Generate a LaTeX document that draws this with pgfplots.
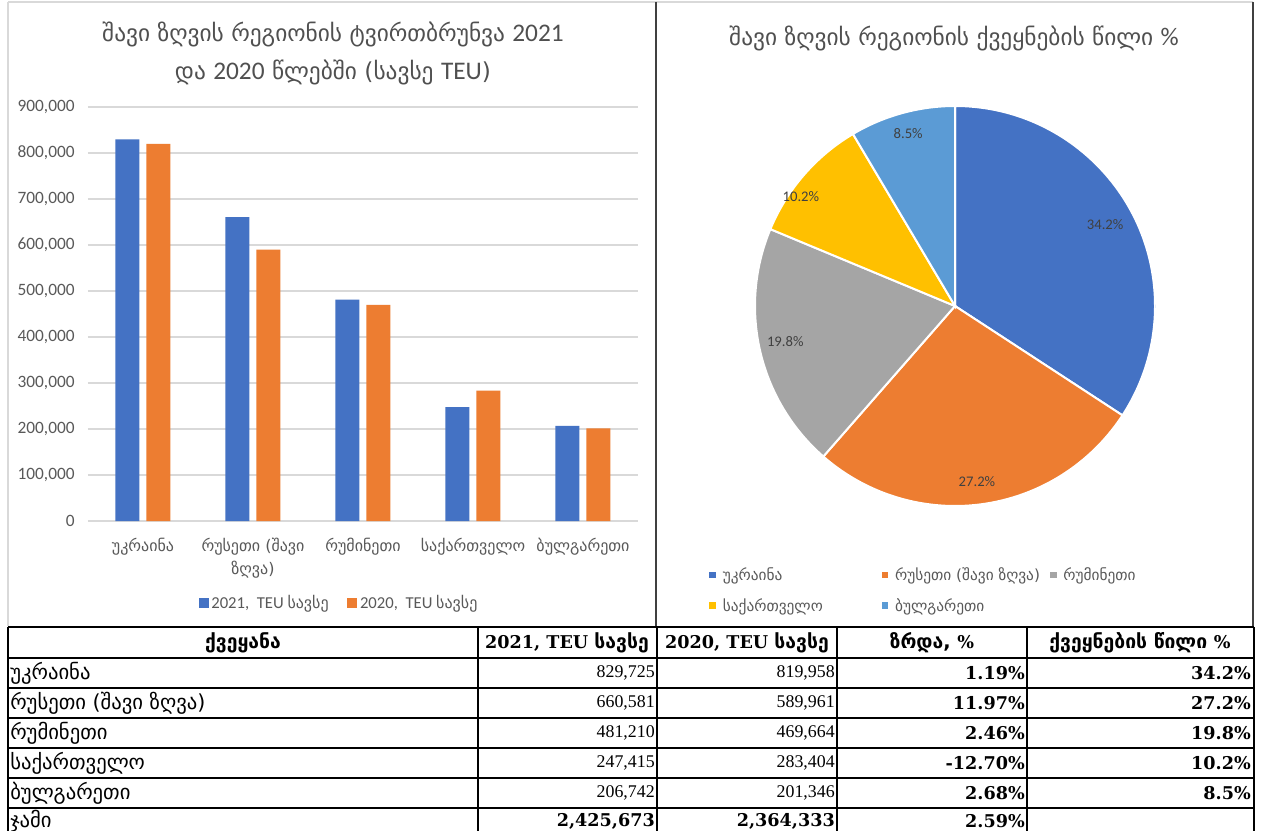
\documentclass[border=0pt]{standalone}
\usepackage{fontspec}
\setmainfont{Carlito}
\newfontfamily\ka{DejaVu Sans}
\newfontfamily\tserif{Liberation Serif}
\newfontfamily\dserif{DejaVu Serif}
\usepackage{pgfplots}
\pgfplotsset{compat=1.18}
\definecolor{c1}{HTML}{4472C4}
\definecolor{c2}{HTML}{ED7D31}
\definecolor{c3}{HTML}{A5A5A5}
\definecolor{c4}{HTML}{FFC000}
\definecolor{c5}{HTML}{5B9BD5}
\definecolor{tg}{HTML}{595959}
\definecolor{gl}{HTML}{D9D9D9}
\newcommand{\tk}{\ka\fontsize{15.5}{18}\selectfont}
\newcommand{\tkh}{\ka\fontsize{14.5}{18}\selectfont\bfseries}
\newcommand{\tn}{\tserif\fontsize{13.4}{15}\selectfont}
\newcommand{\tb}{\dserif\fontsize{13.2}{15}\selectfont\bfseries}
\newcommand{\thd}{\dserif\fontsize{13.2}{17}\selectfont\bfseries}
\newcommand{\cf}[1]{{\fontspec{Carlito}\fontsize{19}{28.5}\selectfont #1}}
\begin{document}
\begin{tikzpicture}
\useasboundingbox (0,0) rectangle (947.25pt,-623.25pt);
\fill[white] (0,0) rectangle (947.25pt,-623.25pt);
\begin{scope}[x=0.75pt,y=-0.75pt]
% panel frames
\draw[gl, line width=1pt] (8,2) -- (1253,2);
\draw[gl, line width=1pt] (8,2) -- (8,626);
\draw[black!75, line width=1.5pt] (656,2) -- (656,627);
\draw[black!75, line width=1.2pt] (1253,2) -- (1253,627);
% titles
\node[align=center, text=tg!90!black, font=\ka\fontsize{17.5}{28.5}\selectfont] at (333,53)
  {შავი ზღვის რეგიონის ტვირთბრუნვა \cf{2021}\\და \cf{2020} წლებში (სავსე \cf{TEU})};
\node[text=tg!90!black, font=\ka\fontsize{17.5}{20}\selectfont] at (954,38)
  {შავი ზღვის რეგიონის ქვეყნების წილი \cf{\%}};
\end{scope}

% ---------- bar chart ----------
\begin{axis}[at={(66pt,-390.75pt)}, anchor=south west,
  scale only axis, width=412.5pt, height=310.5pt,
  xmin=-0.5, xmax=4.5, ymin=0, ymax=900000,
  ytick={0,100000,200000,300000,400000,500000,600000,700000,800000,900000},
  scaled y ticks=false,
  yticklabel style={/pgf/number format/fixed, /pgf/number format/1000 sep={,}, /pgf/number format/assume math mode=true,
    font=\fontsize{13}{15}\selectfont, text=tg, xshift=-6.5pt},
  ymajorgrids, major grid style={draw=gl, line width=1pt},
  axis line style={draw=none}, tick style={draw=none},
  xtick={0,1,2,3,4},
  xticklabels={{უკრაინა},{რუსეთი (შავი\\ზღვა)},{რუმინეთი},{საქართველო},{ბულგარეთი}},
  x tick label style={align=center, font=\ka\fontsize{12}{17.5}\selectfont, text=tg, yshift=-9pt},
  legend style={at={(0.457,-0.198)}, anchor=center, draw=none, fill=none,
    font=\fontsize{12.5}{15}\selectfont, text=tg,
    /tikz/every even column/.append style={column sep=12pt}},
  legend columns=2,
  legend image code/.code={\fill[#1] (0pt,-3.75pt) rectangle (7.5pt,3.75pt);},
]
\addplot[ybar, fill=c1, draw=none, bar width=18pt, bar shift=-11.8pt]
  coordinates {(0,829725) (1,660581) (2,481210) (3,247415) (4,206742)};
\addlegendentry{2021,\ \ TEU {\ka\fontsize{12}{14}\selectfont სავსე}}
\addplot[ybar, fill=c2, draw=none, bar width=18pt, bar shift=11.6pt]
  coordinates {(0,819958) (1,589961) (2,469664) (3,283404) (4,201346)};
\addlegendentry{2020,\ \ TEU {\ka\fontsize{12}{14}\selectfont სავსე}}
\end{axis}

% ---------- pie chart ----------
\begin{axis}[at={(716.25pt,-229.5pt)}, anchor=center,
  scale only axis, width=300pt, height=300pt,
  xmin=-1, xmax=1, ymin=-1, ymax=1, hide axis,
  legend style={at={(-0.125,-0.14)}, anchor=north west, draw=none, fill=none,
    font=\ka\fontsize{11.5}{13}\selectfont, text=tg, row sep=8pt,
    cells={anchor=west},
    /tikz/every odd column/.append style={column sep=3pt}},
  legend columns=3,
  legend image code/.code={\fill[#1] (0pt,-2.6pt) rectangle (5.2pt,2.6pt);},
]
% shares (%) of 2021 volume: 34.206, 27.233, 19.838, 10.200, 8.523
\addlegendimage{fill=c1, draw=none}
\addlegendentry{\makebox[117pt][l]{უკრაინა}}
\addlegendimage{fill=c2, draw=none}
\addlegendentry{\makebox[114pt][l]{რუსეთი (შავი ზღვა)}}
\addlegendimage{fill=c3, draw=none}
\addlegendentry{რუმინეთი}
\addlegendimage{fill=c4, draw=none}
\addlegendentry{\makebox[117pt][l]{საქართველო}}
\addlegendimage{fill=c5, draw=none}
\addlegendentry{\makebox[114pt][l]{ბულგარეთი}}
\fill[c1, draw=white, line width=1.5pt] (axis cs:0,0) -- ++(90:150pt)
  arc[start angle=90, end angle={90-3.6*34.206}, radius=150pt] -- cycle;
\fill[c2, draw=white, line width=1.5pt] (axis cs:0,0) -- ++({90-3.6*34.206}:150pt)
  arc[start angle={90-3.6*34.206}, end angle={90-3.6*61.439}, radius=150pt] -- cycle;
\fill[c3, draw=white, line width=1.5pt] (axis cs:0,0) -- ++({90-3.6*61.439}:150pt)
  arc[start angle={90-3.6*61.439}, end angle={90-3.6*81.277}, radius=150pt] -- cycle;
\fill[c4, draw=white, line width=1.5pt] (axis cs:0,0) -- ++({90-3.6*81.277}:150pt)
  arc[start angle={90-3.6*81.277}, end angle={90-3.6*91.477}, radius=150pt] -- cycle;
\fill[c5, draw=white, line width=1.5pt] (axis cs:0,0) -- ++({90-3.6*91.477}:150pt)
  arc[start angle={90-3.6*91.477}, end angle={90-3.6*100}, radius=150pt] -- cycle;
\begin{scope}[every node/.style={font=\fontsize{11}{13}\selectfont, text=black!75}]
\path (axis cs:0,0) ++(28.4:128pt) node {34.2\%};
\path (axis cs:0,0) ++(-82.9:133pt) node {27.2\%};
\path (axis cs:0,0) ++(-168.3:130pt) node {19.8\%};
\path (axis cs:0,0) ++(144.5:142pt) node {10.2\%};
\path (axis cs:0,0) ++(105.2:134pt) node {8.5\%};
\end{scope}
\end{axis}

% ---------- table ----------
\begin{scope}[x=0.75pt,y=-0.75pt]
\draw[line width=1.3pt] (8,627) -- (1254,627);
\foreach \yy in {658,688,718,748,778,808} {\draw[line width=1pt] (8,\yy) -- (1254,\yy);}
\foreach \xx in {8,478,657,837,1027,1254} {\draw[line width=1.1pt] (\xx,627) -- (\xx,832);}
\begin{scope}[every node/.style={inner sep=0pt}]
\node at (243,643) {\tkh ქვეყანა};
\node at (567,643) {\thd 2021, TEU {\tkh სავსე}};
\node at (747,643) {\thd 2020, TEU {\tkh სავსე}};
\node at (932,643) {\tkh ზრდა, {\thd \%}};
\node at (1140,643) {\tkh ქვეყნების წილი {\thd \%}};
% rows
\node[anchor=west] at (10,673) {\tk უკრაინა};
\node[anchor=west] at (10,703) {\tk რუსეთი (შავი ზღვა)};
\node[anchor=west] at (10,733) {\tk რუმინეთი};
\node[anchor=west] at (10,763) {\tk საქართველო};
\node[anchor=west] at (10,793) {\tk ბულგარეთი};
\node[anchor=west] at (10,821) {\tk ჯამი};
\node[anchor=east] at (655,673) {\tn 829,725};
\node[anchor=east] at (655,703) {\tn 660,581};
\node[anchor=east] at (655,733) {\tn 481,210};
\node[anchor=east] at (655,763) {\tn 247,415};
\node[anchor=east] at (655,793) {\tn 206,742};
\node[anchor=east] at (655,821) {\tb 2,425,673};
\node[anchor=east] at (835,673) {\tn 819,958};
\node[anchor=east] at (835,703) {\tn 589,961};
\node[anchor=east] at (835,733) {\tn 469,664};
\node[anchor=east] at (835,763) {\tn 283,404};
\node[anchor=east] at (835,793) {\tn 201,346};
\node[anchor=east] at (835,821) {\tb 2,364,333};
\node[anchor=east] at (1025,673) {\tb 1.19\%};
\node[anchor=east] at (1025,703) {\tb 11.97\%};
\node[anchor=east] at (1025,733) {\tb 2.46\%};
\node[anchor=east] at (1025,763) {\tb -12.70\%};
\node[anchor=east] at (1025,793) {\tb 2.68\%};
\node[anchor=east] at (1025,821) {\tb 2.59\%};
\node[anchor=east] at (1251,673) {\tb 34.2\%};
\node[anchor=east] at (1251,703) {\tb 27.2\%};
\node[anchor=east] at (1251,733) {\tb 19.8\%};
\node[anchor=east] at (1251,763) {\tb 10.2\%};
\node[anchor=east] at (1251,793) {\tb 8.5\%};
\end{scope}
\end{scope}
\end{tikzpicture}
\end{document}
